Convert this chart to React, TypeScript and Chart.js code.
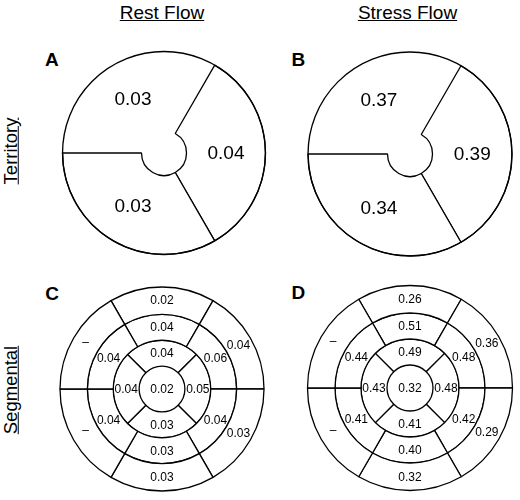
import React, { useEffect, useRef } from 'react'
import Chart from 'chart.js/auto'

// territory values (LAD top, LCX right, RCA bottom)
const territories = ['LAD', 'LCX', 'RCA']
const restTerritory = [0.03, 0.04, 0.03]
const stressTerritory = [0.37, 0.39, 0.34]

// 17-segment model, segments listed clockwise from the anterior one
const wallSegments = ['Anterior', 'Anterolateral', 'Inferolateral', 'Inferior', 'Inferoseptal', 'Anteroseptal']
const apicalSegments = ['Anterior', 'Lateral', 'Inferior', 'Septal']
const restBasal = [0.02, 0.04, 0.03, 0.03, null, null]
const restMid = [0.04, 0.06, 0.04, 0.03, 0.04, 0.04]
const restApical = [0.04, 0.05, 0.03, 0.04]
const restApex = [0.02]
const stressBasal = [0.26, 0.36, 0.29, 0.32, null, null]
const stressMid = [0.51, 0.48, 0.42, 0.4, 0.41, 0.44]
const stressApical = [0.49, 0.48, 0.41, 0.43]
const stressApex = [0.32]

const FONT = '"Liberation Sans", Arial, Helvetica, sans-serif'
const LINE = 1.3

const fmt = (v: number | null) => (v == null ? '–' : v.toFixed(2))
const equal = (arr: any[]) => arr.map(() => 1)

// writes each segment's value at its centre
const valueLabels = {
  id: 'valueLabels',
  afterDatasetsDraw(chart: any, _args: any, opts: any) {
    const ctx = chart.ctx
    ctx.save()
    ctx.font = `${opts.size}px ${FONT}`
    ctx.fillStyle = '#000'
    ctx.textAlign = 'center'
    ctx.textBaseline = 'middle'
    chart.data.datasets.forEach((ds: any, i: number) => {
      if (!ds.values) return
      const meta = chart.getDatasetMeta(i)
      meta.data.forEach((arc: any, j: number) => {
        const full = arc.circumference >= Math.PI * 2 - 1e-6
        const p = full ? { x: arc.x, y: arc.y } : arc.getCenterPoint()
        const v = ds.values[j]
        ctx.fillText(fmt(v), p.x, p.y + (v == null ? -2 : 0.5))
      })
    })
    ctx.restore()
  },
}

const baseOptions = (pad: number, size: number, cutout: number) => ({
  animation: false as const,
  responsive: true,
  maintainAspectRatio: false,
  events: [],
  cutout,
  layout: { padding: pad },
  plugins: {
    legend: { display: false },
    tooltip: { enabled: false },
    valueLabels: { size },
  },
})

const BullsEye = ({ kind, values }: { kind: 'territory' | 'segmental'; values: any }) => {
  const ref = useRef<HTMLCanvasElement>(null)

  useEffect(() => {
    let config: any
    if (kind === 'territory') {
      config = {
        type: 'doughnut',
        data: {
          labels: territories,
          datasets: [
            {
              // outer rim
              data: [1],
              weight: 0.05,
              backgroundColor: 'rgba(0,0,0,0)',
              borderColor: '#000',
              borderWidth: LINE,
              hoverBorderWidth: LINE,
            },
            {
              data: equal(territories),
              values: values.territory,
              weight: 79,
              rotation: -90,
              backgroundColor: '#fff',
              borderColor: '#000',
              borderWidth: [0, LINE, LINE],
              hoverBorderWidth: LINE,
            },
          ],
        },
        options: baseOptions(110 - values.radius - LINE / 2, 19, 22.5),
        plugins: [valueLabels],
      }
    } else {
      const ring = (vals: any[], names: string[], rotation: number, weight: number) => ({
        data: equal(names),
        labels: names,
        values: vals,
        rotation,
        weight,
        backgroundColor: '#fff',
        borderColor: '#000',
        borderWidth: LINE,
        hoverBorderWidth: LINE,
      })
      config = {
        type: 'doughnut',
        data: {
          labels: wallSegments,
          datasets: [
            ring(values.basal, wallSegments, -30, 27.5),
            ring(values.mid, wallSegments, -30, 26),
            ring(values.apical, apicalSegments, -45, 26),
            { ...ring(values.apex, ['Apex'], 0, 23), borderWidth: 0 },
          ],
        },
        options: baseOptions(110 - values.radius - LINE / 2, 12, 0),
        plugins: [valueLabels],
      }
    }
    const chart = new Chart(ref.current as HTMLCanvasElement, config)
    return () => chart.destroy()
  }, [kind, values])

  return <canvas ref={ref} />
}

const panels = [
  { letter: 'A', kind: 'territory', cx: 163.5, cy: 153.3, values: { territory: restTerritory, radius: 101.5 } },
  { letter: 'B', kind: 'territory', cx: 409.5, cy: 153.5, values: { territory: stressTerritory, radius: 102 } },
  {
    letter: 'C',
    kind: 'segmental',
    cx: 162,
    cy: 388.5,
    values: { basal: restBasal, mid: restMid, apical: restApical, apex: restApex, radius: 102 },
  },
  {
    letter: 'D',
    kind: 'segmental',
    cx: 409.5,
    cy: 388,
    values: { basal: stressBasal, mid: stressMid, apical: stressApical, apex: stressApex, radius: 102.5 },
  },
]

const letterPos: Record<string, [number, number]> = {
  A: [45, 49.6],
  B: [291.5, 49.6],
  C: [45.3, 283.8],
  D: [291.5, 283.4],
}

const text: React.CSSProperties = {
  position: 'absolute',
  fontFamily: FONT,
  fontSize: 19,
  lineHeight: '19px',
  whiteSpace: 'nowrap',
  color: '#000',
}

const rowLabel: React.CSSProperties = {
  ...text,
  fontSize: 18.5,
  lineHeight: '18.5px',
  left: 11,
  transform: 'translate(-50%, -50%) rotate(-90deg)',
  textDecoration: 'underline',
}

export default function App() {
  return (
    <div style={{ position: 'absolute', left: 0, top: 0, width: 520, height: 500, background: '#fff' }}>
      <div style={{ ...text, left: 162, top: 3.2, transform: 'translateX(-50%)', textDecoration: 'underline' }}>
        Rest Flow
      </div>
      <div style={{ ...text, left: 407.5, top: 3.2, transform: 'translateX(-50%)', textDecoration: 'underline' }}>
        Stress Flow
      </div>
      <div style={{ ...rowLabel, top: 151 }}>Territory</div>
      <div style={{ ...rowLabel, top: 390 }}>Segmental</div>
      {panels.map((p) => (
        <React.Fragment key={p.letter}>
          <div
            style={{
              ...text,
              fontWeight: 'bold',
              left: letterPos[p.letter][0],
              top: letterPos[p.letter][1],
            }}
          >
            {p.letter}
          </div>
          <div style={{ position: 'absolute', left: p.cx - 110, top: p.cy - 110, width: 220, height: 220 }}>
            <BullsEye kind={p.kind as any} values={p.values} />
          </div>
        </React.Fragment>
      ))}
    </div>
  )
}
